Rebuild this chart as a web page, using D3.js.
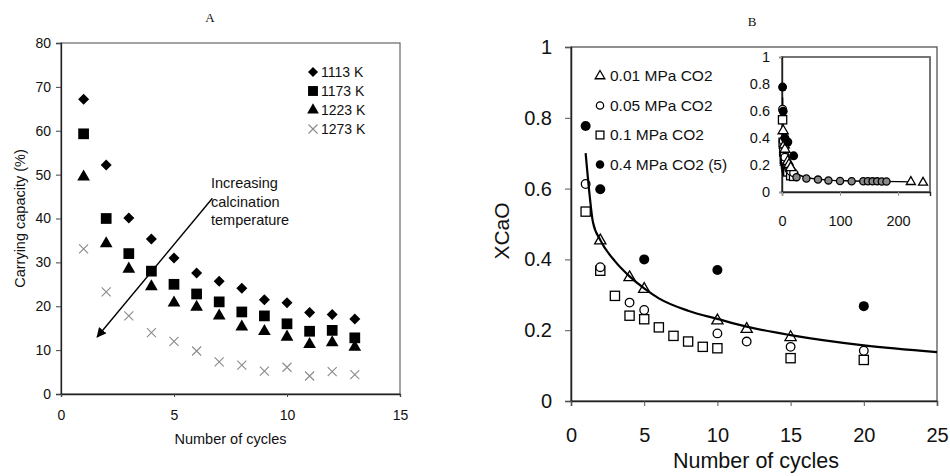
<!DOCTYPE html>
<html>
<head>
<meta charset="utf-8">
<script src="https://cdn.jsdelivr.net/npm/d3@7"></script>
<style>
  html, body { margin: 0; padding: 0; background: #fff; }
  svg { display: block; }
  text { font-family: "Liberation Sans", Arial, sans-serif; fill: #111; }
</style>
</head>
<body>
<svg id="chart" width="950" height="476"></svg>
<script>
// ---------------- Panel A data ----------------
const cyclesA = [1,2,3,4,5,6,7,8,9,10,11,12,13];
const seriesA = ["1113 K", "1173 K", "1223 K", "1273 K"];
const capA1113 = [67.2, 52.2, 40.1, 35.3, 31.0, 27.6, 25.7, 24.1, 21.5, 20.8, 18.6, 18.1, 17.1];
const capA1173 = [59.3, 40.0, 32.0, 28.0, 25.0, 22.8, 21.0, 18.7, 17.8, 16.0, 14.3, 14.5, 12.8];
const capA1223 = [49.5, 34.3, 28.5, 24.5, 20.8, 19.8, 17.8, 15.3, 14.3, 13.0, 11.3, 11.7, 10.7];
const capA1273 = [33.1, 23.3, 17.8, 14.0, 12.0, 9.8, 7.3, 6.6, 5.2, 6.1, 4.1, 5.1, 4.4];
const yTicksA = [0,10,20,30,40,50,60,70,80];
const xTicksA = [0,5,10,15];
const arrowA = { from: [6.7, 44.6], to: [1.6, 13.0] };
const arrowTextA = ["Increasing", "calcination", "temperature"];

// ---------------- Panel B data ----------------
const seriesB = ["0.01 MPa CO2", "0.05 MPa CO2", "0.1 MPa CO2", "0.4 MPa CO2 (5)"];
const cyc001 = [2, 4, 5, 10, 12, 15];
const x001   = [0.453, 0.349, 0.316, 0.227, 0.203, 0.180];
const cyc005 = [1, 2, 4, 5, 10, 12, 15, 20];
const x005   = [0.613, 0.378, 0.278, 0.257, 0.191, 0.168, 0.153, 0.142];
const cyc01  = [1, 2, 3, 4, 5, 6, 7, 8, 9, 10, 15, 20];
const x01    = [0.535, 0.368, 0.297, 0.241, 0.231, 0.208, 0.184, 0.168, 0.153, 0.149, 0.121, 0.116];
const cyc04  = [1, 2, 5, 10, 20];
const x04    = [0.777, 0.598, 0.400, 0.370, 0.268];
const fitCyc = [1, 1.25, 1.5, 2, 3, 4, 5, 6, 8, 10, 12, 15, 20, 25];
const fitX   = [0.700, 0.590, 0.505, 0.455, 0.395, 0.352, 0.318, 0.290, 0.255, 0.232, 0.210, 0.186, 0.157, 0.138];
const yTicksB = [0, 0.2, 0.4, 0.6, 0.8, 1];
const xTicksB = [0, 5, 10, 15, 20, 25];
// inset (long-term) data
const tailCycCirc = [25, 42, 62, 80, 100, 120, 140, 148, 156, 164, 172, 180];
const tailXCirc   = [0.110, 0.100, 0.092, 0.086, 0.082, 0.080, 0.080, 0.080, 0.079, 0.079, 0.078, 0.078];
const tailCycTri  = [222, 243];
const tailXTri    = [0.075, 0.070];
const insetFitCyc = [1, 2, 5, 10, 20, 40, 80, 120, 160, 200, 222];
const insetFitX   = [0.70, 0.455, 0.318, 0.232, 0.157, 0.11, 0.088, 0.082, 0.079, 0.077, 0.075];
const yTicksInset = [0, 0.2, 0.4, 0.6, 0.8, 1];
const xTicksInset = [0, 100, 200];

const svg = d3.select("#chart");
svg.append("rect").attr("width", 950).attr("height", 476).attr("fill", "#fff");

function sym(type, size) { return d3.symbol().type(type).size(size)(); }

// ================= PANEL A =================
const xA = d3.scaleLinear().domain([0, 15]).range([61, 400]);
const yA = d3.scaleLinear().domain([0, 80]).range([394, 43]);
const gA = svg.append("g");

gA.append("text").attr("x", 210).attr("y", 22).attr("text-anchor", "middle")
  .style("font-family", "'Liberation Serif', serif").style("font-size", "13px").text("A");

gA.append("rect").attr("x", xA(0)).attr("y", yA(80)).attr("width", xA(15) - xA(0)).attr("height", yA(0) - yA(80))
  .attr("fill", "none").attr("stroke", "#666").attr("stroke-width", 1.2);

const axAy = gA.append("g").attr("transform", `translate(${xA(0)},0)`)
  .call(d3.axisLeft(yA).tickValues(yTicksA).tickSize(5).tickPadding(5).tickFormat(d3.format("d")));
const axAx = gA.append("g").attr("transform", `translate(0,${yA(0)})`)
  .call(d3.axisBottom(xA).tickValues(xTicksA).tickSize(3).tickPadding(13).tickFormat(d3.format("d")));
[axAy, axAx].forEach(ax => {
  ax.selectAll("path").attr("stroke", "#222").attr("stroke-width", 1.3);
  ax.selectAll("line").attr("stroke", "#444");
  ax.selectAll("text").style("font-size", "14px").attr("fill", "#111").style("font-family", "'Liberation Sans', Arial, sans-serif");
});

gA.append("text").attr("x", xA(7.5)).attr("y", 444).attr("text-anchor", "middle").style("font-size", "14.5px").text("Number of cycles");
gA.append("text").attr("transform", `translate(25,${(yA(0)+yA(80))/2}) rotate(-90)`).attr("text-anchor", "middle")
  .style("font-size", "14.5px").text("Carrying capacity (%)");

const seriesDataA = [
  { vals: capA1113, type: "diamond", size: 5.5 },
  { vals: capA1173, type: d3.symbolSquare, size: 115 },
  { vals: capA1223, type: d3.symbolTriangle, size: 70 },
  { vals: capA1273, type: "x", size: 9 }
];
function drawMarkerA(g, s, x, y) {
  if (s.type === "x") {
    const h = s.size / 2;
    g.append("path").attr("d", `M${x-h},${y-h}L${x+h},${y+h}M${x-h},${y+h}L${x+h},${y-h}`)
      .attr("stroke", "#8a8a8a").attr("stroke-width", 1.1).attr("fill", "none");
  } else if (s.type === "diamond") {
    const h = s.size;
    g.append("path").attr("d", `M${x},${y-h}L${x+h},${y}L${x},${y+h}L${x-h},${y}Z`).attr("fill", "#000");
  } else {
    g.append("path").attr("d", sym(s.type, s.size)).attr("transform", `translate(${x},${y})`).attr("fill", "#000");
  }
}
seriesDataA.forEach(s => {
  cyclesA.forEach((c, i) => drawMarkerA(gA, s, xA(c), yA(s.vals[i])));
});

// legend A
seriesA.forEach((name, i) => {
  const ly = 72 + i * 19;
  const s = seriesDataA[i];
  let ls = s.size;
  if (s.type === "diamond") ls = 5; else if (s.type !== "x") ls = s.size * 0.85;
  drawMarkerA(gA, { ...s, size: ls }, 313, ly);
  gA.append("text").attr("x", 321).attr("y", ly + 5).style("font-size", "14px").text(name);
});

// arrow A
const defs = svg.append("defs");
defs.append("marker").attr("id", "arrowA").attr("viewBox", "0 0 10 10").attr("refX", 9).attr("refY", 5)
  .attr("markerWidth", 7).attr("markerHeight", 7).attr("orient", "auto")
  .append("path").attr("d", "M0,0L10,5L0,10z").attr("fill", "#000");
gA.append("line").attr("x1", xA(arrowA.from[0])).attr("y1", yA(arrowA.from[1]))
  .attr("x2", xA(arrowA.to[0])).attr("y2", yA(arrowA.to[1]))
  .attr("stroke", "#000").attr("stroke-width", 1.4).attr("marker-end", "url(#arrowA)");
arrowTextA.forEach((t, i) => {
  gA.append("text").attr("x", 211).attr("y", 188 + i * 18.5).style("font-size", "14.5px").text(t);
});

// ================= PANEL B =================
const xB = d3.scaleLinear().domain([0, 25]).range([571, 937]);
const yB = d3.scaleLinear().domain([0, 1]).range([401, 47]);
const gB = svg.append("g");

gB.append("text").attr("x", 752).attr("y", 26).attr("text-anchor", "middle")
  .style("font-family", "'Liberation Serif', serif").style("font-size", "13px").text("B");

gB.append("rect").attr("x", xB(0)).attr("y", yB(1)).attr("width", xB(25) - xB(0)).attr("height", yB(0) - yB(1))
  .attr("fill", "none").attr("stroke", "#555").attr("stroke-width", 1.3);

const axBy = gB.append("g").attr("transform", `translate(${xB(0)},0)`)
  .call(d3.axisLeft(yB).tickValues(yTicksB).tickSize(6).tickPadding(13).tickFormat(d => d3.format("")(d)));
const axBx = gB.append("g").attr("transform", `translate(0,${yB(0)})`)
  .call(d3.axisBottom(xB).tickValues(xTicksB).tickSize(5).tickPadding(22).tickFormat(d3.format("d")));
[axBy, axBx].forEach(ax => {
  ax.selectAll("path").attr("stroke", "#222").attr("stroke-width", 1.5);
  ax.selectAll("line").attr("stroke", "#555");
  ax.selectAll("text").style("font-size", "20px").attr("fill", "#111").style("font-family", "'Liberation Sans', Arial, sans-serif");
});
gB.append("text").attr("x", xB(12.5) + 2).attr("y", 468).attr("text-anchor", "middle").style("font-size", "21.5px").text("Number of cycles");
gB.append("text").attr("transform", `translate(509,231) rotate(-90)`).attr("text-anchor", "middle")
  .style("font-size", "21px").text("XCaO");

function drawMarkerB(g, kind, x, y, scale) {
  const k = scale || 1;
  if (kind === 0) {
    g.append("path").attr("d", sym(d3.symbolTriangle, 55 * k * k)).attr("transform", `translate(${x},${y})`)
      .attr("fill", "#fff").attr("stroke", "#000").attr("stroke-width", 1.3);
  } else if (kind === 1) {
    g.append("circle").attr("cx", x).attr("cy", y).attr("r", 4.3 * k)
      .attr("fill", "#fff").attr("stroke", "#000").attr("stroke-width", 1.3);
  } else if (kind === 2) {
    const h = 4.6 * k;
    g.append("rect").attr("x", x - h).attr("y", y - h).attr("width", 2 * h).attr("height", 2 * h)
      .attr("fill", "#fff").attr("stroke", "#000").attr("stroke-width", 1.3);
  } else {
    g.append("circle").attr("cx", x).attr("cy", y).attr("r", 5 * k).attr("fill", "#000");
  }
}
const seriesDataB = [
  { cyc: cyc001, val: x001 },
  { cyc: cyc005, val: x005 },
  { cyc: cyc01,  val: x01 },
  { cyc: cyc04,  val: x04 }
];
[2, 1, 0, 3].forEach(k => {
  const s = seriesDataB[k];
  s.cyc.forEach((c, i) => drawMarkerB(gB, k, xB(c), yB(s.val[i])));
});

const lineB = d3.line().x((d, i) => xB(fitCyc[i])).y((d, i) => yB(fitX[i])).curve(d3.curveMonotoneX);
gB.append("path").attr("d", lineB(fitCyc)).attr("fill", "none").attr("stroke", "#000").attr("stroke-width", 2.2);

// legend B
seriesB.forEach((name, i) => {
  const ly = 76 + i * 29.5;
  drawMarkerB(gB, i, 600, ly, 0.85);
  gB.append("text").attr("x", 610).attr("y", ly + 5).style("font-size", "15.5px").text(name);
});

// ---------- inset ----------
const xI = d3.scaleLinear().domain([0, 255]).range([782, 930]);
const yI = d3.scaleLinear().domain([0, 1]).range([192, 57]);
const gI = svg.append("g");
gI.append("rect").attr("x", xI(0)).attr("y", yI(1)).attr("width", xI(255) - xI(0)).attr("height", yI(0) - yI(1))
  .attr("fill", "#fff").attr("stroke", "#666").attr("stroke-width", 1.8);
const axIy = gI.append("g").attr("transform", `translate(${xI(0)},0)`)
  .call(d3.axisLeft(yI).tickValues(yTicksInset).tickSize(3).tickPadding(9).tickFormat(d => d3.format("")(d)));
const axIx = gI.append("g").attr("transform", `translate(0,${yI(0)})`)
  .call(d3.axisBottom(xI).tickValues(xTicksInset).tickSize(4).tickPadding(20).tickFormat(d3.format("d")));
[axIy, axIx].forEach(ax => {
  ax.selectAll("path").attr("stroke", "#222").attr("stroke-width", 1.4);
  ax.selectAll("line").attr("stroke", "#999");
  ax.selectAll("text").style("font-size", "14.5px").attr("fill", "#111").style("font-family", "'Liberation Sans', Arial, sans-serif");
});
const lineI = d3.line().x((d, i) => xI(insetFitCyc[i])).y((d, i) => yI(insetFitX[i])).curve(d3.curveMonotoneX);
gI.append("path").attr("d", lineI(insetFitCyc)).attr("fill", "none").attr("stroke", "#000").attr("stroke-width", 1.4);
[2, 1, 0, 3].forEach(k => {
  const s = seriesDataB[k];
  s.cyc.forEach((c, i) => drawMarkerB(gI, k, xI(c), yI(s.val[i]), 0.9));
});
tailCycCirc.forEach((c, i) => {
  gI.append("circle").attr("cx", xI(c)).attr("cy", yI(tailXCirc[i])).attr("r", 3.6)
    .attr("fill", "#888").attr("stroke", "#000").attr("stroke-width", 1.3);
});
tailCycTri.forEach((c, i) => drawMarkerB(gI, 0, xI(c), yI(tailXTri[i]), 0.8));
</script>
</body>
</html>
